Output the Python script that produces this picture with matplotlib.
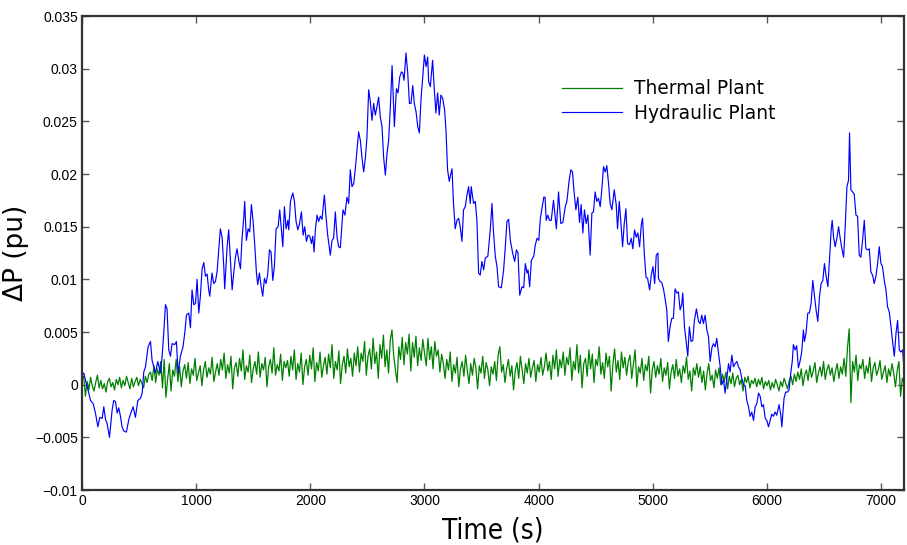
import numpy as np
import matplotlib
matplotlib.use("Agg")
import matplotlib.pyplot as plt
from matplotlib.ticker import FixedLocator, FuncFormatter

# Hydraulic plant deviation (time in s, dP in 1e-4 pu)
hyd_t = [0, 16, 31, 45, 60, 74, 98, 118, 139, 156, 177, 191, 206, 220, 241, 264, 278, 293, 308, 322,
         337, 351, 366, 389, 410, 424, 448, 468, 489, 512, 527, 541, 556, 579, 600, 614, 629, 643, 664, 687,
         702, 716, 731, 745, 760, 775, 789, 812, 827, 842, 862, 885, 900, 915, 935, 950, 964, 979, 994, 1008,
         1023, 1037, 1052, 1067, 1081, 1096, 1110, 1119, 1139, 1154, 1169, 1183, 1198, 1212, 1227, 1242, 1250, 1271, 1285, 1300,
         1315, 1329, 1344, 1358, 1373, 1388, 1402, 1417, 1425, 1440, 1455, 1469, 1484, 1498, 1513, 1528, 1539, 1554, 1568, 1583,
         1598, 1612, 1627, 1642, 1656, 1671, 1685, 1700, 1718, 1732, 1747, 1759, 1773, 1788, 1803, 1811, 1826, 1846, 1861, 1875,
         1890, 1904, 1922, 1937, 1951, 1966, 1980, 1995, 2010, 2021, 2033, 2044, 2059, 2073, 2088, 2102, 2123, 2137, 2152, 2175,
         2190, 2204, 2219, 2234, 2248, 2263, 2286, 2303, 2321, 2336, 2350, 2365, 2380, 2394, 2423, 2438, 2452, 2467, 2482, 2496,
         2511, 2525, 2540, 2555, 2569, 2584, 2598, 2613, 2628, 2642, 2657, 2672, 2686, 2701, 2716, 2736, 2754, 2768, 2783, 2798,
         2809, 2821, 2838, 2853, 2868, 2882, 2897, 2911, 2926, 2941, 2955, 2970, 2984, 2999, 3014, 3028, 3036, 3051, 3071, 3086,
         3100, 3115, 3129, 3144, 3159, 3176, 3188, 3202, 3217, 3226, 3241, 3254, 3269, 3284, 3298, 3313, 3328, 3342, 3357, 3372,
         3386, 3401, 3409, 3430, 3445, 3459, 3474, 3488, 3503, 3518, 3532, 3555, 3576, 3591, 3605, 3620, 3635, 3649, 3673, 3693,
         3708, 3722, 3737, 3752, 3772, 3790, 3805, 3819, 3834, 3854, 3869, 3883, 3898, 3907, 3921, 3936, 3957, 3971, 3986, 4001,
         4015, 4030, 4045, 4056, 4066, 4080, 4095, 4110, 4130, 4155, 4174, 4194, 4212, 4233, 4247, 4267, 4282, 4296, 4311, 4326,
         4343, 4358, 4372, 4387, 4401, 4416, 4431, 4451, 4466, 4480, 4495, 4509, 4524, 4539, 4553, 4568, 4583, 4597, 4612, 4626,
         4641, 4662, 4679, 4691, 4706, 4720, 4735, 4749, 4764, 4779, 4796, 4811, 4825, 4840, 4855, 4869, 4884, 4899, 4910, 4925,
         4940, 4954, 4972, 4986, 5001, 5016, 5030, 5045, 5049, 5063, 5078, 5093, 5107, 5122, 5136, 5151, 5166, 5180, 5195, 5210,
         5224, 5239, 5253, 5262, 5277, 5291, 5306, 5320, 5335, 5350, 5364, 5382, 5400, 5414, 5429, 5443, 5458, 5473, 5487, 5502,
         5517, 5531, 5546, 5560, 5575, 5590, 5604, 5619, 5633, 5648, 5663, 5677, 5692, 5706, 5721, 5736, 5750, 5765, 5779, 5794,
         5809, 5823, 5838, 5852, 5867, 5882, 5896, 5911, 5926, 5940, 5955, 5969, 5984, 5999, 6013, 6028, 6041, 6056, 6071, 6085,
         6106, 6120, 6130, 6149, 6164, 6179, 6193, 6208, 6222, 6231, 6246, 6260, 6275, 6289, 6304, 6319, 6328, 6342, 6357, 6371,
         6386, 6401, 6416, 6430, 6445, 6460, 6474, 6489, 6503, 6518, 6533, 6547, 6562, 6571, 6583, 6597, 6612, 6627, 6641, 6656,
         6671, 6685, 6700, 6714, 6723, 6735, 6749, 6764, 6779, 6793, 6808, 6822, 6837, 6852, 6866, 6881, 6896, 6910, 6925, 6939,
         6954, 6969, 6983, 6998, 7012, 7027, 7042, 7056, 7071, 7086, 7100, 7115, 7130, 7144, 7159, 7173, 7188, 7200]
hyd_v = [9, 11, 4, -2, -8, -15, -18, -27, -40, -31, -32, -21, -33, -37, -50, -24, -15, -16, -27, -22,
         -30, -40, -44, -45, -33, -28, -21, -31, -15, -13, -8, 12, 17, 36, 41, 23, 17, 11, 22, 11,
         27, 49, 76, 72, 33, 27, 39, 38, 41, 11, 27, 36, 49, 66, 68, 54, 90, 76, 77, 100,
         68, 84, 110, 116, 103, 105, 90, 84, 106, 96, 98, 107, 128, 148, 140, 112, 91, 131, 147, 118,
         90, 106, 121, 129, 118, 110, 139, 159, 174, 137, 148, 145, 171, 156, 133, 106, 95, 106, 94, 84,
         101, 96, 105, 128, 126, 99, 112, 148, 150, 166, 147, 131, 169, 148, 156, 147, 174, 182, 174, 155,
         147, 152, 164, 142, 150, 136, 142, 141, 134, 141, 126, 147, 161, 155, 160, 157, 180, 160, 142, 123,
         137, 139, 164, 140, 131, 130, 166, 161, 178, 172, 204, 188, 191, 205, 240, 232, 216, 202, 215, 235,
         280, 269, 251, 267, 256, 264, 273, 254, 245, 216, 199, 220, 232, 264, 303, 245, 281, 277, 292, 297,
         296, 289, 315, 296, 267, 267, 284, 267, 259, 245, 239, 272, 291, 313, 302, 311, 288, 283, 308, 280,
         258, 277, 256, 275, 272, 261, 242, 204, 193, 198, 205, 172, 148, 156, 158, 150, 136, 166, 169, 180,
         188, 172, 188, 172, 174, 156, 106, 104, 117, 109, 120, 122, 147, 172, 144, 122, 112, 93, 92, 109,
         131, 155, 157, 137, 125, 117, 128, 125, 85, 93, 92, 115, 106, 109, 93, 118, 122, 133, 139, 137,
         158, 168, 178, 178, 156, 161, 156, 156, 175, 148, 183, 153, 154, 169, 174, 194, 204, 202, 182, 166,
         178, 154, 171, 144, 166, 153, 161, 123, 163, 164, 183, 174, 177, 169, 185, 207, 202, 208, 191, 172,
         166, 185, 171, 148, 174, 154, 131, 152, 167, 134, 133, 139, 129, 147, 140, 144, 131, 152, 158, 125,
         102, 101, 90, 104, 112, 96, 123, 125, 101, 98, 97, 91, 82, 71, 41, 55, 63, 63, 91, 87,
         88, 71, 76, 87, 55, 42, 27, 55, 41, 42, 61, 72, 60, 58, 66, 58, 66, 52, 46, 22,
         35, 39, 36, 44, 30, 17, 0, 5, -8, 6, 20, 12, 28, 17, 20, 22, 17, 14, 6, 0,
         -1, -15, -21, -30, -26, -34, -21, -18, -8, -11, -21, -19, -32, -34, -40, -34, -28, -30, -26, -29,
         -19, -28, -40, -13, -7, -7, -5, 11, 23, 38, 33, 37, 16, 22, 31, 52, 41, 49, 68, 68,
         77, 99, 84, 71, 60, 84, 96, 99, 115, 103, 93, 118, 147, 156, 140, 131, 139, 150, 139, 129,
         121, 150, 188, 194, 239, 185, 183, 181, 161, 160, 123, 121, 137, 156, 129, 128, 129, 107, 104, 96,
         103, 115, 131, 115, 112, 99, 90, 74, 69, 55, 41, 27, 49, 61, 33, 31, 33, 15]

# Thermal plant deviation, one reading every 15 s (dP in 1e-4 pu)
therm_step = 15
therm_v = [5, 8, -11, 3, -5, 7, -1, -6, 2, 9, -3, 4, -4, 1, -7, 3, 6, -2, 2, -5,
           5, 0, 7, -3, 4, -1, 8, 2, -4, 6, -2, 3, 7, -1, 5, 1, -3, 8, 2, 10,
           12, 4, 18, 2, 15, 9, 22, -3, 24, -12, 5, 20, -6, 14, 8, 24, 3, 17, -2, 13,
           19, 6, 21, 1, 15, 9, 25, 4, 11, 18, -1, 14, 22, 7, 16, 10, 26, 3, 12, 20,
           9, 24, 14, 30, 6, 19, 11, 27, -4, 16, 21, 8, 25, 13, 33, 5, 18, 12, 28, 2,
           15, 22, 10, 31, 7, 20, 14, 26, -2, 17, 24, 11, 35, 9, 19, 13, 29, 4, 22, 16,
           23, 8, 27, 14, 33, 5, 20, 12, 30, 0, 17, 24, 9, 28, 15, 35, 3, 21, 13, 31,
           7, 18, 26, 10, 29, 16, 38, 6, 22, 14, 32, 1, 19, 27, 11, 34, 17, 25, 8, 30,
           18, 36, 12, 30, 22, 41, 9, 27, 34, 15, 44, 20, 31, 6, 38, 25, 47, 17, 33, 11,
           42, 52, 28, 14, 2, 36, 24, 45, 19, 40, 29, 48, 13, 40, 26, 46, 18, 35, 23, 43,
           30, 18, 44, 24, 36, 15, 41, 27, 33, 12, 29, 20, 6, 24, 14, 31, 3, 19, 11, 26,
           -2, 15, 22, 8, 28, 13, 1, 20, 9, 25, 16, -4, 18, 11, 27, 6, 21, 14, -1, 17,
           10, 22, 4, 28, 36, 12, 19, 2, 15, 24, 8, 18, -5, 13, 21, 6, 27, 14, 1, 20,
           11, 25, 7, 16, 23, 3, 19, 12, 26, 9, 17, 30, 13, 22, 5, 28, 15, 33, 8, 24,
           16, 31, 9, 26, 19, 35, 4, 22, 14, 38, 11, 28, -3, 20, 25, 8, 33, 15, 29, 2,
           24, 18, 36, 10, 21, 6, 30, 17, 27, -6, 19, 34, 12, 23, 5, 31, 16, 26, 9, 22,
           28, 6, 20, 33, -2, 17, 11, 25, 4, 19, 13, 27, -8, 14, 22, 7, 18, 10, 25, 3,
           16, 9, 21, -4, 12, 19, 6, 24, 8, 15, 2, 18, 11, 26, 5, 13, -6, 16, 9, 20,
           7, 17, 2, 13, -5, 11, 20, 4, 9, -3, 14, 6, 16, 0, 10, 3, 12, -4, 8, 1,
           11, -2, 6, 9, 0, 5, -6, 7, 2, 8, -3, 4, 1, 6, -2, 5, 0, 7, -4, 3,
           -1, 4, -5, 2, -3, 5, 0, -6, 3, -2, 6, 1, -4, 4, 8, 0, 10, 3, 12, 5,
           15, -1, 9, 14, 4, 18, 7, 13, 21, 2, 11, 17, 8, 22, 5, 14, 19, 9, 16, 3,
           13, 20, 6, 17, 10, 25, 8, 35, 53, -17, 22, 12, 28, 4, 19, 15, 24, 6, 18, 11,
           26, 3, 16, 21, 9, 14, 23, 5, 12, 18, 2, 15, 8, 20, 11, -2, 13, 22, -11, 6,
           2]

y_ticks = [-0.01, -0.005, 0, 0.005, 0.01, 0.015, 0.02, 0.025, 0.03, 0.035]
x_ticks = [0, 1000, 2000, 3000, 4000, 5000, 6000, 7000]

therm_t = np.arange(len(therm_v)) * therm_step
scale = 1e-4

fig = plt.figure(figsize=(9.07, 5.45), dpi=100)
ax = fig.add_axes([0.0904, 0.1009, 0.9063, 0.8697])

ax.plot(therm_t, np.array(therm_v) * scale, color="#008000", lw=0.9,
        label="Thermal Plant")
ax.plot(hyd_t, np.array(hyd_v) * scale, color="#0000ff", lw=0.85,
        label="Hydraulic Plant")

ax.set_xlim(0, 7200)
ax.set_ylim(-0.01, 0.035)
ax.xaxis.set_major_locator(FixedLocator(x_ticks))
ax.yaxis.set_major_locator(FixedLocator(y_ticks))
ax.yaxis.set_major_formatter(FuncFormatter(lambda v, p: f"{v:g}".replace("-", "\u2212")))
ax.tick_params(direction="in", length=5, width=1.0, color="0.35",
               top=True, right=True, labelsize=10, pad=3)
for lab in ax.get_xticklabels() + ax.get_yticklabels():
    lab.set_family(["Liberation Sans Narrow", "Liberation Sans", "DejaVu Sans"])
for s in ax.spines.values():
    s.set_linewidth(1.6)
    s.set_color("0.2")

ax.set_xlabel("Time (s)", fontsize=20, fontstretch="condensed", labelpad=6)
ax.set_ylabel("\u0394P (pu)", fontsize=19, labelpad=4)

ax.legend(loc="upper left", bbox_to_anchor=(0.575, 0.882), frameon=False,
          fontsize=13.4, handlelength=3.2, handletextpad=0.65, labelspacing=0.28,
          borderaxespad=0)

fig.savefig("out.png", dpi=100, facecolor="white")
